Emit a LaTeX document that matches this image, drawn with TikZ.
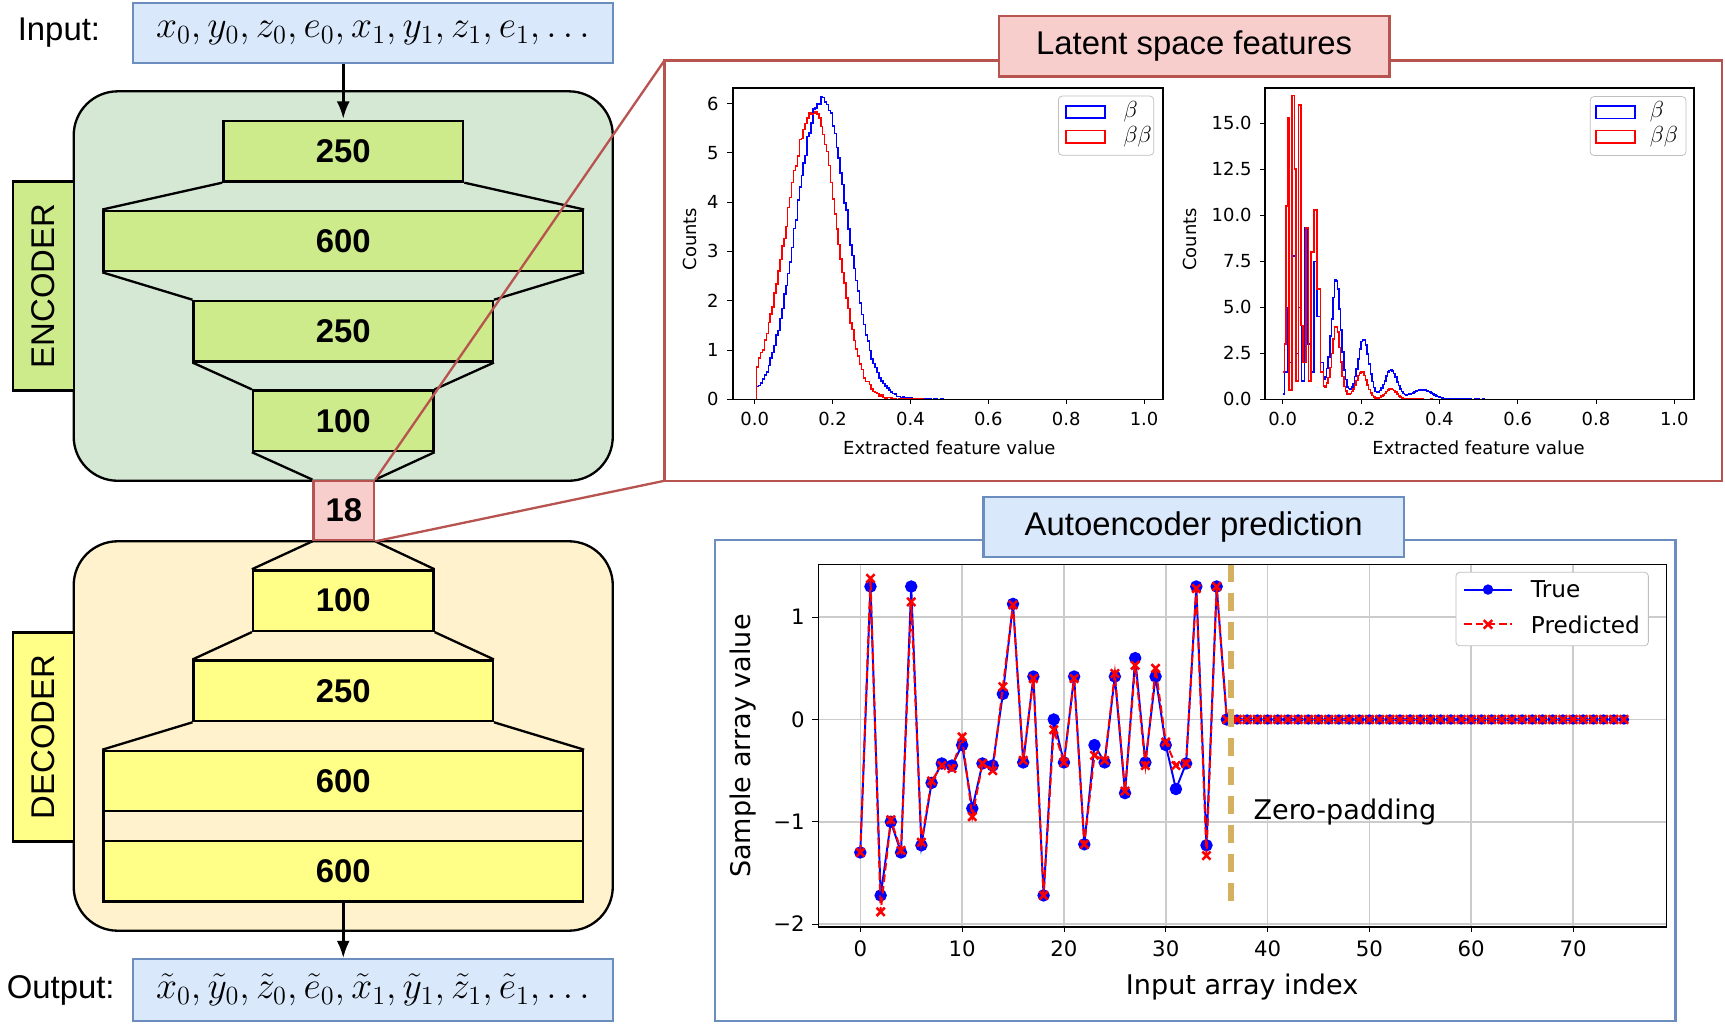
\documentclass[tikz,border=0pt]{standalone}
\usepackage{fontspec}
\setmainfont{Liberation Sans}
\newfontfamily\dv{DejaVu Sans}
\usetikzlibrary{plothandlers,arrows.meta}
\definecolor{bfill}{HTML}{DAE8FC}\definecolor{bdraw}{HTML}{6C8EBF}
\definecolor{rfill}{HTML}{F8CECC}\definecolor{rdraw}{HTML}{B85450}
\definecolor{gbg}{HTML}{D5E8D4}\definecolor{glay}{HTML}{CDEB8B}
\definecolor{ybg}{HTML}{FFF2CC}\definecolor{ylay}{HTML}{FFFF88}
\definecolor{gold}{HTML}{D4B060}
\tikzset{
 lay/.style={draw,line width=1.2pt,inner sep=0,minimum height=1.1cm,font=\bfseries\fontsize{17}{17}\selectfont},
 bbox/.style={draw=bdraw,fill=bfill,line width=1.2pt,inner sep=0},
 rbox/.style={draw=rdraw,fill=rfill,line width=1.2pt,inner sep=0},
 big/.style={font=\fontsize{17}{17}\selectfont},
 side/.style={draw,line width=1.2pt,inner sep=0,minimum width=3.8cm,minimum height=1.1cm,rotate=90,font=\fontsize{17}{17}\selectfont},
 tl/.style={font=\dv\fontsize{9.3}{10}\selectfont},
 lg/.style={font=\dv\fontsize{12}{12}\selectfont},
 tb/.style={font=\dv\fontsize{11}{12}\selectfont},
}
\begin{document}
\begin{tikzpicture}[x=0.02cm,y=-0.02cm]
\useasboundingbox (0,0) rectangle (1568,930);
\draw[fill=gbg,line width=1.2pt,rounded corners=0.8cm] (67,83) rectangle (557,437);
\draw[fill=ybg,line width=1.2pt,rounded corners=0.8cm] (67,492) rectangle (557,846);
\node[side,fill=glay] (encl) at (39.5,260) {ENCODER};
\node[side,fill=ylay] (decl) at (39.5,670) {DECODER};
\node[big,anchor=west] (inlab) at (10,30) {Input:};
\node[bbox,minimum width=8.72cm,minimum height=1.08cm,big] (inbox) at (339,30) {\scalebox{1.13}{$x_0,y_0,z_0,e_0,x_1,y_1,z_1,e_1,\dots$}};
\node[big,anchor=west] (outlab) at (0,900) {Output:};
\node[bbox,minimum width=8.72cm,minimum height=1.12cm,big] (outbox) at (339,900) {\scalebox{1.13}{$\tilde x_0,\tilde y_0,\tilde z_0,\tilde e_0,\tilde x_1,\tilde y_1,\tilde z_1,\tilde e_1,\dots$}};
\node[lay,fill=glay,minimum width=4.36cm] (e1) at (312,137.5) {250};
\node[lay,fill=glay,minimum width=8.72cm] (e2) at (312,219) {600};
\node[lay,fill=glay,minimum width=5.44cm] (e3) at (312,301) {250};
\node[lay,fill=glay,minimum width=3.28cm] (e4) at (312,382.5) {100};
\node[lay,fill=rfill,draw=rdraw,minimum width=1.1cm,minimum height=1.08cm] (z) at (312.5,464) {18};
\node[lay,fill=ylay,minimum width=3.28cm] (d1) at (312,546) {100};
\node[lay,fill=ylay,minimum width=5.44cm] (d2) at (312,628) {250};
\node[lay,fill=ylay,minimum width=8.72cm] (d3) at (312,710) {600};
\node[lay,fill=ybg,minimum width=8.72cm,minimum height=0.56cm] (band) at (312,751) {};
\node[lay,fill=ylay,minimum width=8.72cm] (d4) at (312,792) {600};
\foreach \a/\b in {e1/e2,e2/e3,e3/e4,e4/z,z/d1,d1/d2,d2/d3}{
 \draw[line width=1.2pt] (\a.south west)--(\b.north west) (\a.south east)--(\b.north east);}
\draw[-{Latex[length=9pt]},line width=1.4pt] (inbox.south-|e1.north)--(e1.north|-67,108);
\draw[-{Latex[length=9pt]},line width=1.4pt] (d4.south)--(d4.south|-outbox.north);
\draw[rdraw,line width=1.2pt] (604,55) rectangle (1565,437);
\coordinate (lt) at (604,55); \coordinate (lb) at (604,437);
\draw[rdraw,line width=1.2pt] (z.north east)--(lt) (z.south east)--(lb);
\node[rbox,minimum width=7.1cm,minimum height=1.1cm,big] (lat) at (1085.5,42) {Latent space features};
\draw[bdraw,line width=1.2pt] (650,491) rectangle (1523,928);
\node[bbox,minimum width=7.64cm,minimum height=1.08cm,big] (aut) at (1085,479) {Autoencoder prediction};
% ---- left histogram
\begin{scope}[shift={(686,363)}]\begin{scope}[x=7.08cm,y=0.8967cm]
\pgfmathsetseed{3}
\draw[blue,line width=0.8pt] plot[const plot,domain=0:0.6,samples=121] (\x,{(\x<0.004?0:1)*max(0,6.1*exp(-((\x-0.17)^2)/(2*(\x<0.17?0.065:0.065)^2))+0.1*rand*exp(-((\x-0.17)^2)/0.02)+0.08*exp(-(\x-0.17)/0.08)*(\x>0.17?1:0))});
\draw[red,line width=0.8pt] plot[const plot,domain=0:0.6,samples=121] (\x,{(\x<0.004?0:1)*max(0,5.9*exp(-((\x-0.15)^2)/(2*(\x<0.15?0.07:0.058)^2))+0.12*rand*exp(-((\x-0.15)^2)/0.02))});
\draw[line width=0.8pt] (-0.056,0) rectangle (1.048,6.31);
\foreach \v in {0.0,0.2,0.4,0.6,0.8,1.0}{\draw (\v,0)--(\v,-0.09); \node[tl,anchor=north] (lx\v) at (\v,-0.12) {\v};}
\foreach \v in {0,...,6}{\draw (-0.056,\v)--(-0.07,\v); \node[tl,anchor=east] (ly\v) at (-0.075,\v) {\v};}
\node[tl] (lxl) at (0.5,-0.98) {Extracted feature value};
\node[tl,rotate=90] (lyl) at (-0.165,3.25) {Counts};
\draw[lightgray,rounded corners=2pt,fill=white] (0.78,6.15) rectangle (1.025,4.95);
\draw[blue,line width=0.8pt] (0.80,5.95) rectangle (0.90,5.7);
\draw[red,line width=0.8pt] (0.80,5.45) rectangle (0.90,5.2);
\node[lg,anchor=west] (lb1) at (0.93,5.83) {$\beta$};
\node[lg,anchor=west] (lb2) at (0.93,5.33) {$\beta\beta$};
\end{scope}\end{scope}
% ---- right histogram
\begin{scope}[shift={(1166,363)}]\begin{scope}[x=7.12cm,y=0.3347cm]
\pgfmathsetseed{5}
\draw[blue,line width=0.8pt] plot[const plot] coordinates {(0,0.3) (0.004,1.5) (0.012,5.0) (0.016,2.0) (0.024,7.8) (0.032,2.5) (0.040,5.0) (0.048,1.0) (0.056,9.3) (0.064,3.0) (0.072,1.5) (0.080,7.5) (0.088,4.5) (0.096,2.0) (0.104,1.2)};
\draw[blue,line width=0.8pt] plot[const plot,domain=0.104:0.65,samples=138] (\x,{5.8*exp(-((\x-0.135)^2)/(2*0.012^2))+3.0*exp(-((\x-0.205)^2)/(2*0.014^2))+1.5*exp(-((\x-0.275)^2)/(2*0.016^2))+0.5*exp(-((\x-0.355)^2)/(2*0.025^2))+1.0*exp(-(\x-0.1)/0.07)+0.1*rand*exp(-(\x-0.1)/0.1)});
\draw[red,line width=0.8pt] plot[const plot] coordinates {(0,1.5) (0.004,3.0) (0.008,10.5) (0.012,15.3) (0.016,0.5) (0.024,16.5) (0.030,12.5) (0.034,1.0) (0.040,16.0) (0.046,4.0) (0.052,2.0) (0.060,9.3) (0.066,1.0) (0.072,8.0) (0.080,10.3) (0.088,6.0) (0.096,1.5) (0.104,0.8)};
\draw[red,line width=0.8pt] plot[const plot,domain=0.104:0.65,samples=138] (\x,{3.6*exp(-((\x-0.135)^2)/(2*0.011^2))+1.4*exp(-((\x-0.2)^2)/(2*0.013^2))+0.55*exp(-((\x-0.275)^2)/(2*0.014^2))+0.7*exp(-(\x-0.1)/0.05)+0.05*rand*exp(-(\x-0.1)/0.1)});
\draw[line width=0.8pt] (-0.045,0) rectangle (1.05,16.9);
\foreach \v in {0.0,0.2,0.4,0.6,0.8,1.0}{\draw (\v,0)--(\v,-0.24); \node[tl,anchor=north] (rx\v) at (\v,-0.32) {\v};}
\foreach \v in {0.0,2.5,5.0,7.5,10.0,12.5,15.0}{\draw (-0.045,\v)--(-0.059,\v); \node[tl,anchor=east] (ry\v) at (-0.062,\v) {\v};}
\node[tl] (rxl) at (0.5,-2.62) {Extracted feature value};
\node[tl,rotate=90] (ryl) at (-0.237,8.7) {Counts};
\draw[lightgray,rounded corners=2pt,fill=white] (0.785,16.45) rectangle (1.03,13.25);
\draw[blue,line width=0.8pt] (0.80,15.93) rectangle (0.90,15.27);
\draw[red,line width=0.8pt] (0.80,14.6) rectangle (0.90,13.93);
\node[lg,anchor=west] (rb1) at (0.92,15.6) {$\beta$};
\node[lg,anchor=west] (rb2) at (0.92,14.27) {$\beta\beta$};
\end{scope}\end{scope}
% ---- bottom plot
\begin{scope}[shift={(782,654)}]\begin{scope}[x=0.18514cm,y=1.86cm]
\foreach \v in {0,10,...,70}{\draw[gray!40,line width=0.8pt] (\v,-2.03)--(\v,1.516);}
\foreach \v in {-2,-1,0,1}{\draw[gray!40,line width=0.8pt] (-4.1,\v)--(79.2,\v);}
\draw[blue,line width=1pt,mark=*,mark size=2.7pt,mark options={fill=blue}] plot coordinates {(0,-1.3) (1,1.3) (2,-1.72) (3,-1.0) (4,-1.3) (5,1.3) (6,-1.23) (7,-0.62) (8,-0.43) (9,-0.45) (10,-0.25) (11,-0.87) (12,-0.43) (13,-0.45) (14,0.25) (15,1.13) (16,-0.42) (17,0.42) (18,-1.72) (19,0.0) (20,-0.42) (21,0.42) (22,-1.22) (23,-0.25) (24,-0.42) (25,0.42) (26,-0.72) (27,0.6) (28,-0.42) (29,0.42) (30,-0.25) (31,-0.68) (32,-0.43) (33,1.3) (34,-1.23) (35,1.3) (36,0)};
\draw[red,line width=1pt,dash pattern=on 4pt off 2pt,mark=x,mark size=3pt,mark options={solid,line width=1.3pt}] plot coordinates {(0,-1.3) (1,1.38) (2,-1.88) (3,-0.98) (4,-1.28) (5,1.15) (6,-1.2) (7,-0.6) (8,-0.45) (9,-0.48) (10,-0.17) (11,-0.95) (12,-0.43) (13,-0.5) (14,0.32) (15,1.12) (16,-0.4) (17,0.4) (18,-1.72) (19,-0.1) (20,-0.42) (21,0.4) (22,-1.22) (23,-0.35) (24,-0.4) (25,0.45) (26,-0.7) (27,0.53) (28,-0.45) (29,0.5) (30,-0.22) (31,-0.45) (32,-0.43) (33,1.28) (34,-1.33) (35,1.3) (36,0)};
\draw[blue,line width=1pt] (36,0)--(75,0);
\foreach \i in {37,...,75}{\fill[blue] (\i,0) circle (2.7pt);}
\draw[red,dash pattern=on 4pt off 2pt,line width=1pt] (36,0)--(75,0);
\foreach \i in {37,...,75}{\draw[red,line width=1.3pt] (\i,0) +(-2.2pt,-2.2pt)--+(2.2pt,2.2pt) +(-2.2pt,2.2pt)--+(2.2pt,-2.2pt);}
\draw[gold,line width=3pt,dash pattern=on 9pt off 6pt] (36.4,1.516)--(36.4,-1.88);
\draw[line width=0.8pt] (-4.1,-2.03) rectangle (79.2,1.516);
\foreach \v in {0,10,...,70}{\draw (\v,-2.03)--(\v,-2.08); \node[tb,anchor=north] (bx\v) at (\v,-2.1) {\v};}
\foreach \v in {-2,-1,0,1}{\draw (-4.1,\v)--(-4.7,\v); \node[tb,anchor=east] (by\v) at (-4.8,\v) {\ifnum\v<0 −\number\numexpr-\v\relax\else\v\fi};}
\node[font=\dv\fontsize{14}{15}\selectfont] (bxl) at (37.5,-2.62) {Input array index};
\node[font=\dv\fontsize{14}{15}\selectfont,rotate=90] (byl) at (-11.5,-0.26) {Sample array value};
\node[font=\dv\fontsize{14}{15}\selectfont] (zp) at (47.6,-0.9) {Zero-padding};
\draw[lightgray,rounded corners=2pt,fill=white] (58.5,1.44) rectangle (77.4,0.72);
\draw[blue,line width=1pt] (59.3,1.27)--(64,1.27); \fill[blue] (61.65,1.27) circle (2.7pt);
\draw[red,line width=1pt,dash pattern=on 4pt off 2pt] (59.3,0.93)--(64,0.93);
\draw[red,line width=1.3pt] (61.65,0.93) +(-2.2pt,-2.2pt)--+(2.2pt,2.2pt) +(-2.2pt,2.2pt)--+(2.2pt,-2.2pt);
\node[font=\dv\fontsize{12}{13}\selectfont,anchor=west] (lgt) at (65.2,1.27) {True};
\node[font=\dv\fontsize{12}{13}\selectfont,anchor=west] (lgp) at (65.2,0.93) {Predicted};
\end{scope}\end{scope}
\end{tikzpicture}
\end{document}
